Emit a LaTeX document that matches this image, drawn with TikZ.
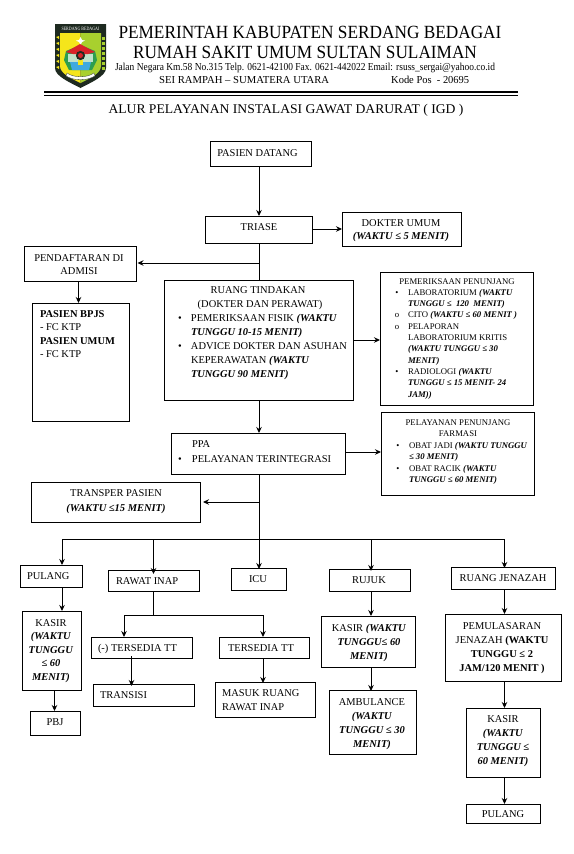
\documentclass[tikz,border=0pt]{standalone}
\usepackage{fontspec}
\usepackage{graphicx}
\setmainfont{Liberation Serif}
\usetikzlibrary{arrows.meta}
\definecolor{logoy}{HTML}{F5E51B}
\definecolor{logog}{HTML}{A8D02E}
\definecolor{logor}{HTML}{D8232A}
\definecolor{logob}{HTML}{3FA9E0}
\definecolor{logod}{HTML}{1E2A20}
\definecolor{logodg}{HTML}{2E9E4F}
\tikzset{
  boxn/.style={draw=black,line width=1pt,inner sep=0pt,outer sep=0pt,anchor=north west,fill=white},
  conn/.style={draw=black,line width=1pt},
  arr/.style={conn,-{Stealth[length=6pt,width=5.5pt]}},
  head/.style={inner sep=0pt,anchor=base,text=black}
}
\newcommand\fitw[2]{\setbox0=\hbox{#2}\pgfmathsetmacro\ratio{#1/(\the\wd0/1pt)}\scalebox{\ratio}[1]{\box0}}
% lines inside a box: \Ln{x from box left}{text}, \Cn{x of centre from box left}{text}
\newcommand\Ln[2]{\hbox to \bw pt{\hspace*{#1pt}\strut #2\hss}}
\newcommand\Cn[2]{\hbox to \bw pt{\hspace*{#1pt}\hbox to 0pt{\hss\strut #2\hss}\hss}}
% \Bl{bullet mark}{x of mark}{x of text}{text}
\newcommand\Bl[4]{\hbox to \bw pt{\hspace*{#2pt}\hbox to 0pt{\hss\strut #1\hss}\hspace*{\dimexpr #3pt - #2pt\relax}#4\hss}}
\newcommand\bi[1]{\textbf{\textit{#1}}}
\newcommand\lte{≤}
\newcommand\fs{10.45}
\newcommand\fss{8.7}
% \bx{name}{x0}{y0}{x1}{y1}{first baseline y}{line skip}{font size}{lines}
\newcommand\bx[9]{%
  \pgfmathsetmacro\bw{#4-#2}\pgfmathsetmacro\bh{#5-#3}%
  \pgfmathsetmacro\bpad{#6-#3-0.7*#7}%
  \node[boxn,minimum width=\bw pt,minimum height=\bh pt] (#1) at (#2,#3)
   {\parbox[t][\bh pt][t]{\bw pt}{\fontsize{#8}{#7}\selectfont\setlength\parskip{0pt}\vspace*{\bpad pt}#9}};}
\begin{document}
\begin{tikzpicture}[x=1pt,y=-1pt]
\useasboundingbox (0,0) rectangle (573,854);
\fill[white] (0,0) rectangle (573,854);
% ---- logo
\fill[logod] (55,24) -- (106,24) -- (106,68) .. controls (106,76) and (92,82) .. (80.5,88) .. controls (69,82) and (55,76) .. (55,68) -- cycle;
\fill[logoy] (60,33) -- (80.5,33) -- (80.5,83) .. controls (70,78) and (60,73) .. (60,66) -- cycle;
\fill[logog] (80.5,33) -- (101,33) -- (101,66) .. controls (101,73) and (91,78) .. (80.5,83) -- cycle;
\foreach \yy in {37,43,49,55,61,67}{\fill[logoy] (56,\yy) -- (59,\yy-1) -- (59,\yy+2) -- cycle;}
\foreach \yy in {37,42,47,52,57,62,67}{\fill[logog] (102,\yy) rectangle (105,\yy+3);}
\fill[white] (80.5,37) -- (82,40) -- (85,40.5) -- (82,42) -- (80.5,45) -- (79,42) -- (76,40.5) -- (79,40) -- cycle;
\fill[logodg] (66,51) -- (80.5,45) -- (95,51) -- (97,60) -- (92,70) -- (69,70) -- (64,60) -- cycle;
\fill[white!70!logodg] (68,54) rectangle (93,62);
\fill[logor] (66,52) -- (80,44) -- (95,52) -- (88,54) -- (73,54) -- cycle;
\fill[logob] (70,62) -- (91,62) -- (89,70) -- (72,70) -- cycle;
\fill[logoy] (78,60) rectangle (83,65);
\fill[logod] (80.5,55.5) circle (4.6);
\fill[logor] (80.5,55.5) circle (2.5);
\fill[white,draw=logod,line width=.3pt] (67,73) .. controls (74,78) and (87,78) .. (94,73) -- (95,76) .. controls (87,81) and (74,81) .. (66,76) -- cycle;
\node[inner sep=0pt,text=white] (logotxt) at (80.5,28.5) {\scalebox{0.8}[1]{\fontsize{5}{5}\selectfont SERDANG BEDAGAI}};
% ---- heading
\node[head] (h1) at (310,38) {\fitw{383}{\fontsize{18.6}{20}\selectfont PEMERINTAH KABUPATEN SERDANG BEDAGAI}};
\node[head] (h2) at (305,58) {\fitw{344}{\fontsize{18.6}{20}\selectfont RUMAH SAKIT UMUM SULTAN SULAIMAN}};
\node[head] (h3) at (305,70) {\fitw{380}{\fontsize{10.67}{12}\selectfont Jalan Negara Km.58 No.315 Telp. 0621-42100 Fax. 0621-442022 Email: rsuss\_sergai@yahoo.co.id}};
\node[head,anchor=base west] (h4) at (159,83) {\fitw{170}{\fontsize{10.67}{12}\selectfont SEI RAMPAH – SUMATERA UTARA}};
\node[head,anchor=base west] (h5) at (391,83) {\fitw{78}{\fontsize{10.67}{12}\selectfont Kode Pos\ \ - 20695}};
\coordinate (ruleL) at (44,92.2);
\coordinate (ruleR) at (518,92.2);
\draw[line width=1.8pt] (ruleL) -- (ruleR);
\draw[line width=1.2pt] ([yshift=-3.2pt]ruleL) -- ([yshift=-3.2pt]ruleR);
\node[head] (h6) at (286,113) {\fitw{355}{\fontsize{13.33}{15}\selectfont ALUR PELAYANAN INSTALASI GAWAT DARURAT ( IGD )}};
% ---- boxes
\bx{pd}{210}{141}{311}{166}{156}{13}{\fs}{\Cn{47.5}{PASIEN DATANG}}
\bx{tr}{205}{216}{312}{243}{230}{13}{\fs}{\Cn{54}{TRIASE}}
\bx{du}{342}{212}{461}{246}{226.5}{12.5}{\fs}{\Cn{59}{DOKTER UMUM}\Cn{59}{\bi{(WAKTU \lte{} 5 MENIT)}}}
\bx{pf}{24}{246}{136}{281}{261}{13.3}{\fs}{\Cn{55}{PENDAFTARAN DI}\Cn{55}{ADMISI}}
\bx{bp}{32}{303}{129}{421}{317}{13.6}{\fs}{\Ln{8}{\textbf{PASIEN BPJS}}\Ln{8}{- FC KTP}\Ln{8}{\textbf{PASIEN UMUM}}\Ln{8}{- FC KTP}}
\bx{rt}{164}{280}{353}{400}{293.5}{14}{\fs}{\Cn{94}{RUANG TINDAKAN}\Cn{96}{(DOKTER DAN PERAWAT)}%
  \Bl{\textbullet}{16}{27}{PEMERIKSAAN FISIK \bi{(WAKTU}}\Ln{27}{\bi{TUNGGU 10-15 MENIT)}}%
  \Bl{\textbullet}{16}{27}{ADVICE DOKTER DAN ASUHAN}\Ln{27}{KEPERAWATAN \bi{(WAKTU}}\Ln{27}{\bi{TUNGGU 90 MENIT)}}}
\bx{ppa}{171}{433}{345}{474}{447}{15}{\fs}{\Ln{21}{PPA}\Bl{\textbullet}{9}{21}{PELAYANAN TERINTEGRASI}}
\bx{tp}{31}{482}{200}{522}{496}{15}{\fs}{\Cn{85}{TRANSPER PASIEN}\Cn{85}{\bi{(WAKTU \lte{}15 MENIT)}}}
\bx{pm}{380}{272}{533}{405}{284}{11.3}{\fss}{\Cn{77}{PEMERIKSAAN PENUNJANG}%
  \Bl{\textbullet}{17}{28}{LABORATORIUM \bi{(WAKTU}}\Ln{28}{\bi{TUNGGU \lte{}\ \ 120\ \ MENIT)}}%
  \Bl{o}{17}{28}{CITO \bi{(WAKTU \lte{} 60 MENIT )}}%
  \Bl{o}{17}{28}{PELAPORAN}\Ln{28}{LABORATORIUM KRITIS}\Ln{28}{\bi{(WAKTU TUNGGU \lte{}\ 30}}\Ln{28}{\bi{MENIT)}}%
  \Bl{\textbullet}{17}{28}{RADIOLOGI \bi{(WAKTU}}\Ln{28}{\bi{TUNGGU \lte{}\ 15 MENIT- 24}}\Ln{28}{\bi{JAM))}}}
\bx{py}{381}{412}{534}{495}{425}{11.5}{\fss}{\Cn{77}{PELAYANAN PENUNJANG}\Cn{77}{FARMASI}%
  \Bl{\textbullet}{17}{28}{OBAT JADI \bi{(WAKTU TUNGGU}}\Ln{28}{\bi{\lte{}\ 30 MENIT)}}%
  \Bl{\textbullet}{17}{28}{OBAT RACIK \bi{(WAKTU}}\Ln{28}{\bi{TUNGGU \lte{} 60 MENIT)}}}
\bx{pu}{20}{565}{82}{587}{579}{13}{\fs}{\Ln{7}{PULANG}}
\bx{ri}{108}{570}{199}{591}{584}{13}{\fs}{\Ln{8}{RAWAT INAP}}
\bx{ic}{231}{568}{286}{590}{582}{13}{\fs}{\Cn{27}{ICU}}
\bx{ru}{329}{569}{410}{591}{583}{13}{\fs}{\Cn{40}{RUJUK}}
\bx{rj}{451}{567}{555}{589}{581}{13}{\fs}{\Cn{52}{RUANG JENAZAH}}
\bx{ka}{22}{611}{81}{690}{626}{13.5}{\fs}{\Cn{29}{KASIR}\Cn{29}{\bi{(WAKTU}}\Cn{29}{\bi{TUNGGU}}\Cn{29}{\bi{\lte{} 60}}\Cn{29}{\bi{MENIT)}}}
\bx{pb}{30}{711}{80}{735}{725}{13}{\fs}{\Cn{25}{PBJ}}
\bx{nt}{91}{637}{192}{658}{651}{13}{\fs}{\Ln{7}{(-) TERSEDIA TT}}
\bx{tt}{219}{637}{309}{658}{651}{13}{\fs}{\Ln{9}{TERSEDIA TT}}
\bx{ts}{93}{684}{194}{706}{698}{13}{\fs}{\Ln{7}{TRANSISI}}
\bx{mr}{215}{682}{315}{717}{696}{14}{\fs}{\Ln{7}{MASUK RUANG}\Ln{7}{RAWAT INAP}}
\bx{kr}{321}{616}{415}{667}{631}{14}{\fs}{\Cn{48}{KASIR \bi{(WAKTU}}\Cn{48}{\bi{TUNGGU\lte{} 60}}\Cn{48}{\bi{MENIT)}}}
\bx{am}{329}{690}{416}{754}{705}{14}{\fs}{\Cn{43}{AMBULANCE}\Cn{43}{\bi{(WAKTU}}\Cn{43}{\bi{TUNGGU \lte{} 30}}\Cn{43}{\bi{MENIT)}}}
\bx{pl}{445}{614}{561}{681}{629}{14}{\fs}{\Cn{57}{PEMULASARAN}\Cn{57}{JENAZAH \textbf{(WAKTU}}\Cn{57}{\textbf{TUNGGU \lte{} 2}}\Cn{57}{\textbf{JAM/120 MENIT )}}}
\bx{kj}{466}{708}{540}{777}{722}{14}{\fs}{\Cn{37}{KASIR}\Cn{37}{\bi{(WAKTU}}\Cn{37}{\bi{TUNGGU \lte{}}}\Cn{37}{\bi{60 MENIT)}}}
\bx{pj}{466}{804}{540}{823}{817}{13}{\fs}{\Cn{37}{PULANG}}
% ---- connectors
\foreach \n/\xx in {c259/259,c79/78.5,c62/62,c153/153.5,c371/371,c504/504.5,c124/124,c263/263,c131/131.5,c54/54.5}{\coordinate (\n) at (\xx,0);}
\foreach \n/\yy in {r229/229,r263/263,r340/340,r452/452,r502/502,bus/539,sub/615}{\coordinate (\n) at (0,\yy);}
\draw[arr] (pd.south -| c259) -- (tr.north -| c259);
\draw[conn] (tr.south -| c259) -- (rt.north -| c259);
\draw[arr] (r263 -| c259) -- ([xshift=1.5pt]r263 -| pf.east);
\draw[arr] (pf.south -| c79) -- (bp.north -| c79);
\draw[arr] (tr.east |- r229) -- (du.west |- r229);
\draw[arr] (rt.east |- r340) -- (pm.west |- r340);
\draw[arr] (rt.south -| c259) -- (ppa.north -| c259);
\draw[arr] (ppa.east |- r452) -- (py.west |- r452);
\draw[conn] (ppa.south -| c259) -- (bus -| c259);
\draw[arr] (r502 -| c259) -- ([xshift=3pt]r502 -| tp.east);
\draw[conn] (bus -| c62) -- (bus -| c504);
\draw[arr] (bus -| c62) -- (pu.north -| c62);
\draw[arr] (bus -| c153) -- ([yshift=-4pt]ri.north -| c153);
\draw[arr] (bus -| c259) -- ([yshift=-1pt]ic.north -| c259);
\draw[arr] (bus -| c371) -- ([yshift=-2pt]ru.north -| c371);
\draw[arr] (bus -| c504) -- ([yshift=-1pt]rj.north -| c504);
\draw[arr] (pu.south -| c62) -- (ka.north -| c62);
\draw[arr] (ka.south -| c54) -- (pb.north -| c54);
\draw[conn] (ri.south -| c153) -- (sub -| c153);
\draw[conn] (sub -| c124) -- (sub -| c263);
\draw[arr] (sub -| c124) -- (nt.north -| c124);
\draw[arr] (sub -| c263) -- (tt.north -| c263);
\draw[arr] ([yshift=2pt]nt.south -| c131) -- ([yshift=-2pt]ts.north -| c131);
\draw[arr] (tt.south -| c263) -- ([yshift=-1pt]mr.north -| c263);
\draw[arr] (ru.south -| c371) -- (kr.north -| c371);
\draw[arr] (kr.south -| c371) -- ([yshift=-1pt]am.north -| c371);
\draw[arr] (rj.south -| c504) -- (pl.north -| c504);
\draw[arr] (pl.south -| c504) -- (kj.north -| c504);
\draw[arr] (kj.south -| c504) -- (pj.north -| c504);
\end{tikzpicture}
\end{document}
